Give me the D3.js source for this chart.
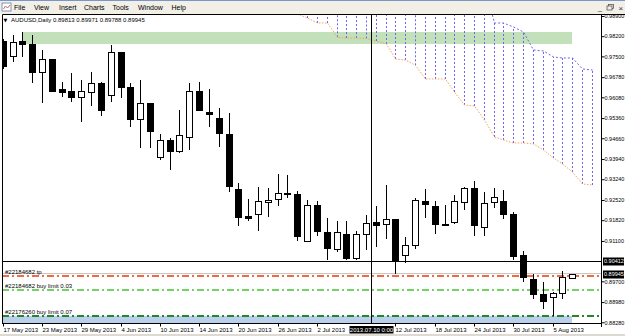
<!DOCTYPE html>
<html>
<head>
<meta charset="utf-8">
<script src="https://cdn.jsdelivr.net/npm/d3@7"></script>
<style>
  html, body { margin: 0; padding: 0; background: #fff; overflow: hidden; }
  svg { display: block; font-family: "Liberation Sans", Arial, sans-serif; }
</style>
</head>
<body>
<svg id="chart" width="625" height="336"></svg>
<script>
// Daily bars, AUDUSD
const dates = [
  '2013.05.17','2013.05.20','2013.05.21','2013.05.22','2013.05.23','2013.05.24','2013.05.27','2013.05.28','2013.05.29','2013.05.30','2013.05.31',
  '2013.06.03','2013.06.04','2013.06.05','2013.06.06','2013.06.07','2013.06.10','2013.06.11','2013.06.12','2013.06.13','2013.06.14',
  '2013.06.17','2013.06.18','2013.06.19','2013.06.20','2013.06.21','2013.06.24','2013.06.25','2013.06.26','2013.06.27','2013.06.28',
  '2013.07.01','2013.07.02','2013.07.03','2013.07.04','2013.07.05','2013.07.08','2013.07.09','2013.07.10','2013.07.11','2013.07.12',
  '2013.07.15','2013.07.16','2013.07.17','2013.07.18','2013.07.19','2013.07.22','2013.07.23','2013.07.24','2013.07.25','2013.07.26',
  '2013.07.29','2013.07.30','2013.07.31','2013.08.01','2013.08.02','2013.08.05','2013.08.06','2013.08.07'
];
const open = [
  0.98044, 0.97513, 0.98033, 0.97919, 0.96948, 0.97409, 0.96369, 0.96289, 0.96102, 0.96276, 0.96588,
  0.96161, 0.97641, 0.96449, 0.95339, 0.95894, 0.94001, 0.94601, 0.94220, 0.94715, 0.96300,
  0.95582, 0.95364, 0.94809, 0.92902, 0.91976, 0.92046, 0.92441, 0.92555, 0.92763, 0.92718,
  0.91099, 0.92337, 0.91422, 0.90822, 0.91342, 0.90499, 0.91342, 0.91748, 0.91671, 0.91852,
  0.90604, 0.90950, 0.92486, 0.92313, 0.91689, 0.91748, 0.92441, 0.92926, 0.91574, 0.92441,
  0.92496, 0.92025, 0.90597, 0.89771, 0.89262, 0.89168, 0.89279, 0.89813
];
const high = [
  0.98103, 0.98241, 0.98356, 0.98241, 0.97721, 0.97420, 0.96622, 0.96913, 0.96681, 0.96948, 0.96595,
  0.97895, 0.97650, 0.96567, 0.96681, 0.95900, 0.94809, 0.94660, 0.95641, 0.96567, 0.96622,
  0.96359, 0.95700, 0.95527, 0.93100, 0.92545, 0.92971, 0.92947, 0.93412, 0.93377, 0.92833,
  0.92521, 0.92486, 0.91886, 0.91793, 0.91793, 0.91446, 0.91990, 0.92323, 0.93041, 0.91872,
  0.91227, 0.92580, 0.92892, 0.92486, 0.92347, 0.92694, 0.92971, 0.93169, 0.92788, 0.92947,
  0.92867, 0.92094, 0.90753, 0.89948, 0.89688, 0.89314, 0.90052, 0.89971
];
const low = [
  0.97062, 0.97316, 0.97468, 0.96567, 0.95894, 0.96276, 0.96102, 0.95929, 0.95235, 0.95780, 0.95433,
  0.95929, 0.96047, 0.95062, 0.94313, 0.94313, 0.93908, 0.93561, 0.94161, 0.94254, 0.95617,
  0.95062, 0.94369, 0.92809, 0.91619, 0.91803, 0.91456, 0.91942, 0.92323, 0.92600, 0.91110,
  0.91090, 0.91283, 0.90440, 0.90708, 0.90440, 0.90440, 0.90787, 0.90902, 0.91158, 0.89955,
  0.90347, 0.90832, 0.91886, 0.91352, 0.91619, 0.91699, 0.92174, 0.91283, 0.91273, 0.92254,
  0.91872, 0.90440, 0.89678, 0.89078, 0.88724, 0.88499, 0.89078, 0.89788
];
const close = [
  0.97177, 0.98009, 0.97919, 0.96948, 0.97399, 0.96310, 0.96276, 0.96102, 0.96289, 0.96588, 0.95641,
  0.97641, 0.96449, 0.95339, 0.95894, 0.94923, 0.94601, 0.94230, 0.94764, 0.96300, 0.95641,
  0.95492, 0.94854, 0.93006, 0.91942, 0.91907, 0.92496, 0.92521, 0.92753, 0.92718, 0.91283,
  0.92337, 0.91456, 0.90846, 0.91401, 0.90499, 0.91342, 0.91734, 0.91664, 0.91852, 0.90440,
  0.90950, 0.92510, 0.92372, 0.91678, 0.91644, 0.92476, 0.92947, 0.91654, 0.92406, 0.92614,
  0.92025, 0.90579, 0.89834, 0.89251, 0.89029, 0.89286, 0.89841, 0.89945
];

// Axis labels
const dateTickBars = [0, 4, 8, 12, 16, 20, 24, 28, 32, 40, 44, 48, 52, 56];
const dateTickLabels = ['17 May 2013', '23 May 2013', '29 May 2013', '4 Jun 2013', '10 Jun 2013', '14 Jun 2013',
  '20 Jun 2013', '26 Jun 2013', '2 Jul 2013', '12 Jul 2013', '18 Jul 2013', '24 Jul 2013', '30 Jul 2013', '5 Aug 2013'];
const priceTicks = [0.98900, 0.98200, 0.97500, 0.96780, 0.96080, 0.95360, 0.94660, 0.93940, 0.93240,
  0.92520, 0.91820, 0.91100, 0.89700, 0.88980, 0.88280];

// Ichimoku cloud (shifted forward, bars 29..60)
const cloudBars = [29, 30, 31, 32, 33, 34, 35, 36, 37, 38, 39, 40, 41, 42, 43, 44, 45, 46, 47, 48,
  49, 50, 51, 52, 53, 54, 55, 56, 57, 58, 59, 60];
const spanA = [0.99385, 0.98969, 0.98831, 0.98657, 0.98657, 0.98162, 0.98137, 0.98137, 0.98120, 0.98033,
  0.97929, 0.97409, 0.97375, 0.97191, 0.96716, 0.96716, 0.96716, 0.96265, 0.95814, 0.95780,
  0.95294, 0.94705, 0.94601, 0.94497, 0.94497, 0.94462, 0.94254, 0.93977, 0.93769, 0.93491, 0.93075, 0.93041];
const spanB = [1.00000, 1.00000, 1.00000, 1.00000, 1.00000, 1.00000, 1.00000, 1.00000, 1.00000, 1.00000,
  1.00000, 1.00000, 1.00000, 1.00000, 1.00000, 1.00000, 1.00000, 1.00000, 1.00000, 1.00000,
  0.99975, 0.98657, 0.98657, 0.98519, 0.98345, 0.97721, 0.97687, 0.97479, 0.97444, 0.97444, 0.97062, 0.97028];

// Orders and chart objects
const orderPrices = [0.89920, 0.89446, 0.88523];
const orderNames = ['#22184682 tp', '#22184682 buy limit 0.03', '#22176260 buy limit 0.07'];
const bidPrice = 0.89945;
const crossPrice = 0.90412;
const crossBar = 37.56;
const crossLabel = '2013.07.10 0:00';
const greenZonePrices = [0.98360, 0.97940];
const greenZoneBars = [1.95, 58];
const blueZonePrices = [0.88510, 0.87900];
const blueZoneBars = [-3, 58];

const symbol = 'AUDUSD';
const period = 'Daily';
const menuItems = ['File', 'View', 'Insert', 'Charts', 'Tools', 'Window', 'Help'];

const W = 625, H = 336;
const plot = { left: 2, right: 601, top: 14, bottom: 323 };
const orderColors = ['#f4693f', '#74d264', '#23862a'];

const svg = d3.select('#chart');

// Scales
const x = d3.scaleLinear().domain([0, 56]).range([2.7, 552.5]);
const y = d3.scaleLinear().domain([0.88255, 0.98969]).range([plot.bottom, plot.top]);
const px = v => Math.round(x(v)) + 0.5;
const py = v => Math.round(y(v)) + 0.5;
const fmt = d3.format('.5f');

// Window chrome
svg.append('rect').attr('width', W).attr('height', H).attr('fill', '#fff');
svg.append('rect').attr('width', W).attr('height', plot.top).attr('fill', '#f1efe6');
svg.append('line').attr('x1', 0).attr('x2', W).attr('y1', 0.5).attr('y2', 0.5).attr('stroke', '#7a96c8');

const icon = svg.append('g').attr('transform', 'translate(2,3)');
icon.append('rect').attr('width', 9).attr('height', 8).attr('fill', '#fff').attr('stroke', '#5a7fbf').attr('stroke-width', 0.8);
icon.append('path').attr('d', 'M1.5,6 L3.5,3 L5.5,5 L8,2').attr('fill', 'none').attr('stroke', '#d04020').attr('stroke-width', 0.8);

const menuX = [14, 34, 59, 84, 112.5, 138, 171.5];
svg.append('g').selectAll('text').data(menuItems).join('text')
  .attr('x', (d, i) => menuX[i]).attr('y', 10)
  .attr('font-size', 7).attr('fill', '#000')
  .text(d => d);

const btns = svg.append('g').attr('font-size', 7).attr('fill', '#333');
btns.append('text').attr('x', 598).attr('y', 10).text('_');
btns.append('rect').attr('x', 608.5).attr('y', 4.5).attr('width', 5).attr('height', 4).attr('fill', 'none').attr('stroke', '#444').attr('stroke-width', 0.7);
btns.append('rect').attr('x', 607).attr('y', 6).attr('width', 5).attr('height', 4).attr('fill', '#f1efe6').attr('stroke', '#444').attr('stroke-width', 0.7);
btns.append('text').attr('x', 618.5).attr('y', 10.5).attr('font-size', 8).text('×');

// Plot clip
svg.append('clipPath').attr('id', 'plot-clip')
  .append('rect').attr('x', plot.left).attr('y', plot.top + 1)
  .attr('width', plot.right - plot.left).attr('height', plot.bottom - plot.top - 1);
const g = svg.append('g').attr('clip-path', 'url(#plot-clip)');

// Rectangles (drawn as background)
g.append('rect')
  .attr('x', Math.round(x(greenZoneBars[0]))).attr('y', Math.round(y(greenZonePrices[0])))
  .attr('width', Math.round(x(greenZoneBars[1]) - x(greenZoneBars[0])))
  .attr('height', Math.round(y(greenZonePrices[1]) - y(greenZonePrices[0])))
  .attr('fill', '#c2e0b9');
g.append('rect')
  .attr('x', Math.round(x(blueZoneBars[0]))).attr('y', Math.round(y(blueZonePrices[0])))
  .attr('width', Math.round(x(blueZoneBars[1]) - x(blueZoneBars[0])))
  .attr('height', Math.round(y(blueZonePrices[1]) - y(blueZonePrices[0])))
  .attr('fill', '#bacfea');

// Ichimoku cloud hatching
const cloud = cloudBars.map((b, i) => ({ b, a: spanA[i], s: spanB[i] }));
g.append('g').selectAll('line').data(cloud).join('line')
  .attr('x1', d => px(d.b)).attr('x2', d => px(d.b))
  .attr('y1', d => y(d.a)).attr('y2', d => y(d.s))
  .attr('stroke', '#6e64f0').attr('stroke-width', 1)
  .attr('stroke-dasharray', '2,2');

g.append('path').datum(cloud)
  .attr('fill', 'none').attr('stroke', '#6e64f0').attr('stroke-width', 1)
  .attr('stroke-dasharray', '2,2')
  .attr('d', d3.line().x(d => px(d.b)).y(d => y(d.s)));
g.append('path').datum(cloud)
  .attr('fill', 'none').attr('stroke', '#f4a460').attr('stroke-width', 1)
  .attr('stroke-dasharray', '1.5,1.5')
  .attr('d', d3.line().x(d => px(d.b)).y(d => y(d.a)));

// Bid line
g.append('line')
  .attr('x1', plot.left).attr('x2', plot.right)
  .attr('y1', py(bidPrice) - 1).attr('y2', py(bidPrice) - 1)
  .attr('stroke', '#c8c8c8');

// Order lines
g.append('g').selectAll('line').data(orderPrices).join('line')
  .attr('x1', plot.left).attr('x2', plot.right)
  .attr('y1', d => Math.round(y(d)) + 1).attr('y2', d => Math.round(y(d)) + 1)
  .attr('stroke', (d, i) => orderColors[i]).attr('stroke-width', 2)
  .attr('stroke-dasharray', '7,3,2,3');
g.append('g').selectAll('text').data(orderPrices).join('text')
  .attr('x', 5).attr('y', d => py(d) - 2)
  .attr('font-size', 6).attr('fill', '#000')
  .text((d, i) => orderNames[i]);

// Candles
const bars = dates.map((d, i) => ({ i, date: d, o: open[i], h: high[i], l: low[i], c: close[i] }));
const candle = g.append('g').selectAll('g').data(bars).join('g');
candle.append('line')
  .attr('x1', d => px(d.i)).attr('x2', d => px(d.i))
  .attr('y1', d => Math.round(y(d.h))).attr('y2', d => Math.round(y(d.l)))
  .attr('stroke', '#000');
candle.append('rect')
  .attr('x', d => Math.round(x(d.i)) - 2.5)
  .attr('y', d => Math.round(y(Math.max(d.o, d.c))) + 0.5)
  .attr('width', 6)
  .attr('height', d => Math.max(1, Math.round(y(Math.min(d.o, d.c))) - Math.round(y(Math.max(d.o, d.c)))))
  .attr('fill', d => d.c >= d.o ? '#fff' : '#000')
  .attr('stroke', '#000');

// Crosshair
g.append('line')
  .attr('x1', plot.left).attr('x2', plot.right)
  .attr('y1', py(crossPrice)).attr('y2', py(crossPrice))
  .attr('stroke', '#000');
g.append('line')
  .attr('x1', px(crossBar)).attr('x2', px(crossBar))
  .attr('y1', plot.top).attr('y2', plot.bottom)
  .attr('stroke', '#000');

// Frame
svg.append('path')
  .attr('d', `M${plot.left + 0.5},${plot.bottom + 0.5}V${plot.top + 0.5}H${W}M${plot.right + 0.5},${plot.top}V${plot.bottom + 4}M${plot.left},${plot.bottom + 0.5}H${plot.right + 1}`)
  .attr('fill', 'none').attr('stroke', '#000');

// Price axis
svg.append('g')
  .attr('transform', `translate(${plot.right + 0.5},0)`)
  .call(d3.axisRight(y).tickValues(priceTicks).tickSize(3).tickPadding(0).tickFormat(fmt))
  .call(a => a.select('.domain').remove())
  .call(a => a.selectAll('line').attr('stroke', '#000'))
  .selectAll('text')
  .attr('font-size', 5.5).attr('font-family', '"Liberation Sans", Arial, sans-serif').attr('fill', '#000');

// Date axis
svg.append('g')
  .attr('transform', `translate(0,${plot.bottom + 0.5})`)
  .call(d3.axisBottom(x).tickValues(dateTickBars).tickSize(3).tickPadding(1)
    .tickFormat((d, i) => dateTickLabels[i]))
  .call(a => a.select('.domain').remove())
  .call(a => a.selectAll('.tick').attr('transform', d => `translate(${px(d)},0)`))
  .call(a => a.selectAll('line').attr('stroke', '#000'))
  .selectAll('text')
  .attr('text-anchor', 'start').attr('x', 0)
  .attr('font-size', 6).attr('font-family', '"Liberation Sans", Arial, sans-serif').attr('fill', '#000');

// Highlighted labels (crosshair, bid)
function priceBox(price) {
  const yc = Math.round(y(price));
  svg.append('rect').attr('x', 603).attr('y', yc - 3.5).attr('width', 21).attr('height', 8).attr('fill', '#000');
  svg.append('text').attr('x', 604).attr('y', yc + 2.3)
    .attr('font-size', 5.5).attr('fill', '#fff').text(fmt(price));
}
priceBox(crossPrice);
priceBox(bidPrice);

const cx = px(crossBar);
svg.append('rect').attr('x', cx - 22).attr('y', 326).attr('width', 44).attr('height', 7.5).attr('fill', '#000');
svg.append('text').attr('x', cx).attr('y', 331.8).attr('text-anchor', 'middle')
  .attr('font-size', 6).attr('fill', '#fff').text(crossLabel);

// Bottom window edge
svg.append('rect').attr('x', 0).attr('y', 334).attr('width', W).attr('height', 2).attr('fill', '#dcdad2');

// Title
const last = bars[bars.length - 1];
svg.append('text').attr('x', 3.5).attr('y', 21.5).attr('font-size', 5).attr('font-family', 'DejaVu Sans').text('▼');
svg.append('text').attr('x', 11).attr('y', 22)
  .attr('font-size', 6).attr('fill', '#000')
  .text(`${symbol},${period}  ${fmt(last.o)} ${fmt(last.h)} ${fmt(last.l)} ${fmt(last.c)}`);
</script>
</body>
</html>
